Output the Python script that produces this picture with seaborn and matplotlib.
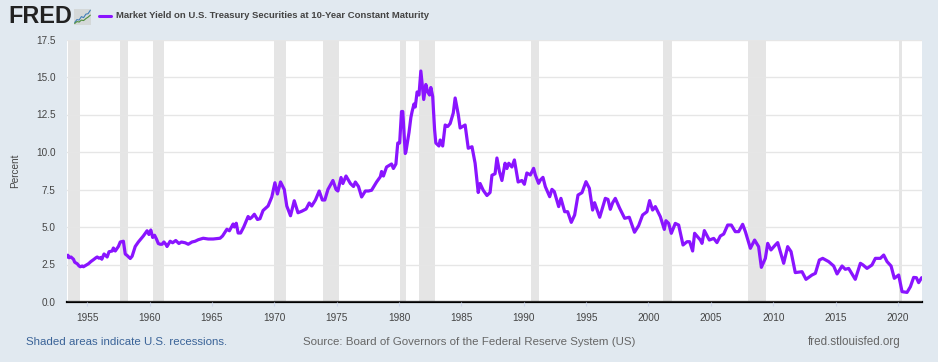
import matplotlib
matplotlib.use("Agg")
import matplotlib.pyplot as plt
import numpy as np
import pandas as pd
import seaborn as sns

dates_1950s = [1953.38,1953.45,1953.55,1953.7,1953.9,1954.0,1954.2,1954.35,1954.45,1954.6,1954.7,1954.9,1955.1,1955.3,1955.5,1955.7,1955.8,1955.95,1956.1,1956.17,1956.35,1956.6,1956.75,1957.0,1957.1,1957.25,1957.5,1957.65,1957.9,1958.05,1958.2,1958.45,1958.6,1958.85,1959.1,1959.5,1959.8,1959.95]
yields_1950s = [3.0,3.12,2.95,3.0,2.85,2.65,2.55,2.4,2.35,2.4,2.35,2.45,2.55,2.7,2.82,2.95,3.0,2.92,2.97,2.85,3.2,3.0,3.35,3.4,3.6,3.4,3.7,4.0,4.05,3.2,3.1,2.9,3.05,3.7,4.0,4.4,4.75,4.5]

dates_1960s = [1960.1,1960.25,1960.4,1960.55,1960.7,1960.85,1961.0,1961.15,1961.3,1961.4,1961.65,1961.85,1962.1,1962.35,1962.55,1962.85,1963.1,1963.4,1963.65,1963.9,1964.3,1964.7,1965.1,1965.65,1965.85,1966.2,1966.4,1966.7,1966.8,1966.95,1967.1,1967.3,1967.55,1967.9,1968.05,1968.2,1968.4,1968.65,1968.85,1969.1,1969.5,1969.8]
yields_1960s = [4.8,4.3,4.45,4.2,3.9,3.85,3.85,4.0,3.85,3.7,4.05,3.95,4.1,3.9,4.0,3.95,3.85,4.0,4.05,4.15,4.25,4.2,4.2,4.25,4.4,4.85,4.75,5.2,5.0,5.25,4.6,4.6,5.0,5.7,5.55,5.65,5.85,5.5,5.55,6.1,6.4,7.0]

dates_1970s = [1970.05,1970.25,1970.5,1970.8,1971.0,1971.3,1971.6,1971.9,1972.2,1972.55,1972.8,1973.0,1973.3,1973.6,1973.85,1974.05,1974.3,1974.7,1974.95,1975.1,1975.35,1975.5,1975.75,1976.1,1976.35,1976.5,1976.75,1977.0,1977.3,1977.55,1977.8,1978.2,1978.5,1978.6,1978.75,1979.0,1979.4,1979.55,1979.75,1979.9]
yields_1970s = [7.95,7.2,8.0,7.5,6.4,5.75,6.75,5.95,6.05,6.2,6.6,6.4,6.8,7.4,6.8,6.8,7.5,8.1,7.5,7.4,8.3,7.9,8.4,7.9,7.7,8.0,7.7,7.0,7.4,7.4,7.45,8.0,8.35,8.7,8.4,9.0,9.2,8.9,9.2,10.6]

dates_1980s = [1980.05,1980.2,1980.3,1980.5,1980.55,1980.8,1980.95,1981.05,1981.2,1981.3,1981.45,1981.6,1981.75,1981.98,1982.15,1982.3,1982.45,1982.55,1982.7,1982.85,1982.95,1983.2,1983.3,1983.5,1983.7,1983.9,1984.1,1984.35,1984.5,1984.75,1984.9,1985.3,1985.55,1985.85,1986.1,1986.35,1986.5,1986.75,1987.05,1987.3,1987.45,1987.7,1987.85,1988.05,1988.25,1988.5,1988.65,1988.8,1989.05,1989.25,1989.55,1989.85]
yields_1980s = [10.6,12.7,12.7,9.9,10.0,11.3,12.3,12.7,13.2,13.0,14.0,13.8,15.4,13.5,14.5,14.0,13.8,14.3,13.7,11.5,10.6,10.4,10.8,10.4,11.8,11.7,11.9,12.6,13.6,12.5,11.6,11.8,10.25,10.35,9.25,7.3,7.9,7.45,7.1,7.3,8.45,8.55,9.6,8.7,8.1,9.25,8.9,9.25,9.0,9.47,8.0,8.1]

dates_1990s = [1990.05,1990.25,1990.53,1990.79,1990.93,1991.19,1991.33,1991.54,1991.73,1992.08,1992.26,1992.45,1992.8,1992.98,1993.28,1993.52,1993.81,1994.08,1994.35,1994.67,1994.99,1995.26,1995.52,1995.68,1996.09,1996.54,1996.75,1996.94,1997.13,1997.34,1997.69,1998.09,1998.46,1998.88,1999.21,1999.53,1999.88]
yields_1990s = [7.85,8.6,8.47,8.91,8.47,7.91,8.13,8.31,7.69,7.02,7.51,7.36,6.36,6.91,6.02,6.02,5.31,5.8,7.13,7.29,8.02,7.58,6.13,6.62,5.65,6.91,6.84,6.18,6.62,6.91,6.25,5.58,5.65,4.65,5.09,5.8,6.02]

dates_2000s = [2000.09,2000.33,2000.55,2000.95,2001.27,2001.4,2001.62,2001.83,2002.15,2002.42,2002.77,2003.09,2003.3,2003.54,2003.7,2004.16,2004.29,2004.48,2004.88,2005.23,2005.49,2005.76,2006.03,2006.35,2006.64,2006.96,2007.23,2007.55,2007.77,2008.17,2008.51,2008.83,2009.05,2009.37,2009.56,2009.82]
yields_2000s = [6.76,6.13,6.36,5.69,4.84,5.42,5.24,4.58,5.24,5.13,3.8,4.02,4.02,3.4,4.58,4.13,3.91,4.76,4.13,4.24,3.96,4.4,4.53,5.13,5.13,4.69,4.69,5.18,4.69,3.58,4.13,3.69,2.31,2.91,3.91,3.47]

dates_2010s = [2010.17,2010.36,2010.84,2011.16,2011.43,2011.77,2012.31,2012.63,2013.11,2013.38,2013.7,2013.97,2014.45,2014.85,2015.12,2015.52,2015.78,2016.05,2016.58,2016.99,2017.2,2017.52,2017.92,2018.19,2018.59,2018.86,2019.13,2019.45,2019.71]
yields_2010s = [3.8,3.96,2.58,3.69,3.36,1.96,2.02,1.51,1.8,1.91,2.8,2.91,2.69,2.4,1.87,2.4,2.18,2.24,1.51,2.58,2.47,2.24,2.47,2.91,2.91,3.13,2.69,2.4,1.58]

dates_2020s = [2020.06,2020.33,2020.73,2021.0,2021.26,2021.48,2021.66,2021.9]
yields_2020s = [1.8,0.69,0.64,1.02,1.64,1.62,1.29,1.62]

recession_starts = [1953.5,1957.65,1960.3,1970.0,1973.9,1980.05,1981.6,1990.55,2001.2,2007.95,2020.1]
recession_ends = [1954.4,1958.3,1961.15,1970.9,1975.2,1980.55,1982.9,1991.2,2001.85,2009.45,2020.3]
y_ticks = [0.0,2.5,5.0,7.5,10.0,12.5,15.0,17.5]
x_ticks = list(range(1955,2021,5))
logo_x = [0,1,2,3,4,5,6,7]
logo_top = [1,2.2,2,3.4,3,4.4,4.6,6]
logo_low = [0.6,1.4,1.2,2,1.8,2.6,3.2,4]

BG = "#e1e9f0"
PURPLE = "#8a14ff"
FONT = ["Liberation Sans", "DejaVu Sans"]

sns.set_theme(style="white")
plt.rcParams["font.family"] = FONT

df = pd.DataFrame({
    "date": dates_1950s + dates_1960s + dates_1970s + dates_1980s + dates_1990s + dates_2000s + dates_2010s + dates_2020s,
    "yield": yields_1950s + yields_1960s + yields_1970s + yields_1980s + yields_1990s + yields_2000s + yields_2010s + yields_2020s,
})

W, H = 938, 362
fig = plt.figure(figsize=(W/100, H/100), dpi=100, facecolor=BG)
ax = fig.add_axes([67/W, 1-302/H, (922-67)/W, (302-39.5)/H], facecolor="white")

for s, e in zip(recession_starts, recession_ends):
    ax.axvspan(s, e, color="#e5e5e5", lw=0, zorder=1)
ax.set_axisbelow(False)
ax.yaxis.grid(True, color="#e6e6e6", lw=1, zorder=1.5)
ax.xaxis.grid(False)
sns.lineplot(data=df, x="date", y="yield", estimator=None, sort=False, ax=ax,
             color=PURPLE, lw=2.3, zorder=3)
ax.set_xlim(1953.38, 2021.93)
ax.set_ylim(0, 17.5)
ax.set_xticks(x_ticks)
ax.set_yticks(y_ticks)
ax.set_yticklabels([f"{v:.1f}" for v in y_ticks])
ax.set_xlabel("")
ax.set_ylabel("Percent", fontsize=7.2, color="#444444", labelpad=0)
ax.yaxis.set_label_coords((20-67)/(922-67), 0.5)
ax.tick_params(axis="x", length=3, width=0.8, color="#ccd6eb", labelsize=7.2, labelcolor="#444444", pad=5, bottom=True)
ax.tick_params(axis="y", length=0, labelsize=7.2, labelcolor="#444444", pad=12 - 4)
for lab in ax.get_xticklabels() + ax.get_yticklabels():
    lab.set_fontweight("medium")
for name, sp in ax.spines.items():
    sp.set_visible(name == "bottom")
ax.spines["bottom"].set_color("black")
ax.spines["bottom"].set_linewidth(1.6)

def T(x, y, s, **kw):
    fig.text(x/W, 1-y/H, s, va="center", **kw)

T(8, 16.5, "FRED", fontsize=16.8, fontweight="bold", color="#222222")
icon = fig.add_axes([74/W, 1-25/H, 17/W, 16/H], facecolor="#d4d8d8")
icon.plot(logo_x, logo_top, color="#3f7fb8", lw=0.8)
icon.plot(logo_x, logo_low, color="#4f8f3f", lw=0.8)
icon.set_xlim(-0.3, 7.3); icon.set_ylim(0, 6.5)
icon.set_xticks([]); icon.set_yticks([])
for sp in icon.spines.values():
    sp.set_visible(False)
fig.add_artist(plt.Line2D([99/W, 111/W], [1-16/H]*2, color=PURPLE, lw=2.2))
T(116, 16, "Market Yield on U.S. Treasury Securities at 10-Year Constant Maturity",
  fontsize=6.8, fontweight="bold", color="#444444")
T(26, 342, "Shaded areas indicate U.S. recessions.", fontsize=8.27, color="#3a6398")
T(303, 342, "Source: Board of Governors of the Federal Reserve System (US)", fontsize=8.27, color="#666666")
T(808, 342, "fred.stlouisfed.org", fontsize=8.4, color="#666666")

fig.savefig("out.png", dpi=100, facecolor=BG)
